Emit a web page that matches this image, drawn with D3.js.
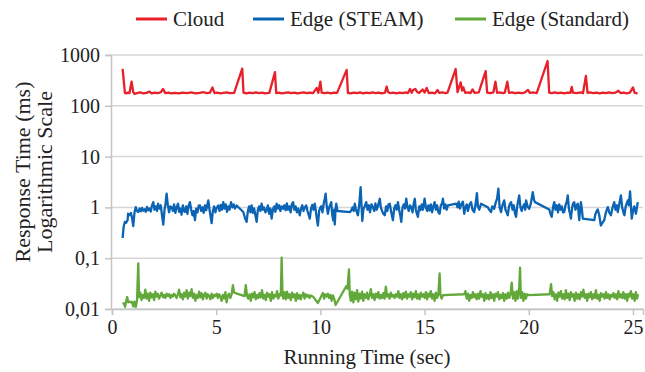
<!DOCTYPE html>
<html><head><meta charset="utf-8">
<script src="https://cdn.jsdelivr.net/npm/d3@7"></script>
<style>body{margin:0;background:#fff}svg{display:block}</style>
</head><body>
<svg id="chart" width="645" height="372"></svg>
<script>
const seriesNames = ["Cloud", "Edge (STEAM)", "Edge (Standard)"];
const xTicks = [0, 5, 10, 15, 20, 25];
const yTicks = [0.01, 0.1, 1, 10, 100, 1000];
const yTickLabels = ["0,01", "0,1", "1", "10", "100", "1000"];

const cloudData = [[0.51,531],[0.62,180],[0.68,176],[0.76,182],[0.84,178],[0.94,300],[1.02,185],[1.08,172],[1.2,178],[1.35,183],[1.5,176],[1.65,180],[1.8,190],[1.9,175],[2.05,181],[2.2,177],[2.35,185],[2.45,215],[2.55,178],[2.7,182],[2.85,176],[3.0,180],[3.2,175],[3.4,182],[3.6,178],[3.8,183],[4.0,176],[4.2,180],[4.4,185],[4.55,177],[4.7,181],[4.82,230],[4.92,178],[5.05,182],[5.2,176],[5.35,180],[5.5,184],[5.65,177],[5.86,180],[6.25,540],[6.31,182],[6.45,176],[6.6,181],[6.75,178],[6.9,183],[7.05,177],[7.2,181],[7.35,176],[7.55,180],[7.82,460],[7.88,178],[8.0,182],[8.15,176],[8.3,180],[8.45,184],[8.6,177],[8.75,181],[8.9,175],[9.05,180],[9.2,183],[9.35,177],[9.5,181],[9.65,178],[9.82,225],[9.9,180],[10.0,300],[10.06,182],[10.2,177],[10.35,181],[10.5,176],[10.65,182],[10.8,180],[11.26,510],[11.32,180],[11.45,176],[11.6,182],[11.75,178],[11.9,183],[12.05,176],[12.2,181],[12.35,177],[12.5,183],[12.65,178],[12.8,181],[12.95,176],[13.1,182],[13.18,240],[13.25,185],[13.35,178],[13.5,182],[13.65,176],[13.8,181],[13.95,177],[14.1,183],[14.2,178],[14.3,215],[14.38,180],[14.45,205],[14.55,215],[14.65,185],[14.75,180],[14.9,210],[15.0,182],[15.1,225],[15.2,178],[15.35,182],[15.5,176],[15.62,205],[15.7,180],[15.85,183],[16.0,177],[16.1,182],[16.49,530],[16.58,185],[16.73,290],[16.8,200],[16.86,230],[16.95,180],[17.1,183],[17.2,178],[17.3,210],[17.4,180],[17.6,183],[17.93,480],[18.0,182],[18.15,178],[18.3,183],[18.4,300],[18.48,180],[18.6,183],[18.75,177],[18.85,182],[18.97,300],[19.05,180],[19.2,183],[19.35,177],[19.5,182],[19.65,178],[19.8,181],[19.96,205],[20.05,180],[20.2,183],[20.38,178],[20.9,762],[20.98,182],[21.1,177],[21.25,183],[21.4,178],[21.55,181],[21.7,176],[21.85,182],[22.0,180],[22.06,235],[22.12,181],[22.3,177],[22.5,183],[22.6,178],[22.74,387],[22.82,180],[22.95,183],[23.1,177],[23.25,181],[23.4,176],[23.55,182],[23.7,178],[23.85,183],[24.0,177],[24.15,181],[24.3,198],[24.4,178],[24.55,182],[24.7,176],[24.85,181],[25.0,230],[25.08,180],[25.22,176]];

const steamData = [[0.51,0.25],[0.56,0.42],[0.62,0.52],[0.68,0.5],[0.75,0.56],[0.77,0.75],[0.84,0.7],[0.91,0.78],[0.96,0.62],[1.02,0.43],[1.08,0.8],[1.14,1.01],[1.2,0.85],[1.26,0.81],[1.32,0.95],[1.38,0.84],[1.44,0.98],[1.5,0.86],[1.56,0.92],[1.62,0.82],[1.68,1.02],[1.74,0.88],[1.8,0.95],[1.86,0.83],[1.92,1.1],[1.98,1.27],[2.04,0.9],[2.1,1.05],[2.16,0.85],[2.21,1.18],[2.28,0.95],[2.34,1.1],[2.4,0.7],[2.46,0.46],[2.52,0.9],[2.57,1.2],[2.62,1.87],[2.68,1.1],[2.74,0.8],[2.8,1.05],[2.86,1.01],[2.92,0.85],[2.98,1.15],[3.04,0.78],[3.1,1.0],[3.17,1.18],[3.22,0.82],[3.28,0.95],[3.34,0.72],[3.4,1.1],[3.45,0.85],[3.5,0.81],[3.56,1.05],[3.62,0.75],[3.68,1.1],[3.74,1.27],[3.8,0.9],[3.86,0.7],[3.92,0.85],[3.98,0.56],[4.04,0.95],[4.1,0.8],[4.16,1.08],[4.22,1.09],[4.28,0.85],[4.34,1.0],[4.4,0.78],[4.46,1.1],[4.52,0.88],[4.58,1.15],[4.62,1.37],[4.68,0.9],[4.74,0.62],[4.78,0.49],[4.84,0.85],[4.9,1.05],[4.96,0.8],[5.02,0.98],[5.1,1.09],[5.16,0.85],[5.22,1.12],[5.28,0.9],[5.34,1.27],[5.4,0.95],[5.46,1.15],[5.52,0.82],[5.58,1.05],[5.64,0.9],[5.71,1.27],[5.78,1.0],[5.84,1.15],[5.9,0.95],[5.98,1.09],[6.3,0.81],[6.38,0.62],[6.46,0.52],[6.52,0.85],[6.58,1.05],[6.64,0.8],[6.7,1.1],[6.76,0.78],[6.82,0.95],[6.88,0.7],[6.94,0.52],[7.0,0.9],[7.06,1.05],[7.12,0.85],[7.18,1.18],[7.24,0.9],[7.3,1.0],[7.36,0.8],[7.42,0.87],[7.48,1.1],[7.54,0.75],[7.6,0.95],[7.66,0.6],[7.72,0.9],[7.78,1.05],[7.84,0.82],[7.9,1.18],[7.96,0.95],[8.02,1.1],[8.08,0.85],[8.14,1.05],[8.21,0.94],[8.27,1.1],[8.33,0.88],[8.39,1.2],[8.45,0.9],[8.51,1.05],[8.57,0.8],[8.63,1.15],[8.69,1.27],[8.75,0.9],[8.81,1.05],[8.87,0.8],[8.93,0.95],[9.01,0.7],[9.07,0.95],[9.13,1.1],[9.19,0.85],[9.25,1.0],[9.32,1.09],[9.38,0.85],[9.44,0.7],[9.49,0.6],[9.55,0.95],[9.61,1.12],[9.67,0.9],[9.73,1.18],[9.79,0.8],[9.84,0.55],[9.88,0.44],[9.94,0.85],[10.0,1.0],[10.04,1.05],[10.1,0.8],[10.16,1.2],[10.21,1.5],[10.25,1.86],[10.3,1.1],[10.36,0.75],[10.42,1.0],[10.48,1.15],[10.52,1.27],[10.57,0.7],[10.62,0.55],[10.66,0.9],[10.69,0.46],[10.73,0.95],[10.76,1.18],[10.82,0.85],[11.42,0.81],[11.48,0.87],[11.54,1.0],[11.6,0.85],[11.65,1.18],[11.7,0.95],[11.75,0.8],[11.8,0.7],[11.86,1.1],[11.93,2.5],[12.01,0.54],[12.06,0.9],[12.12,1.05],[12.2,1.27],[12.26,0.9],[12.32,1.1],[12.38,0.8],[12.45,1.15],[12.52,1.01],[12.58,0.85],[12.64,1.2],[12.7,0.9],[12.76,1.05],[12.85,1.48],[12.9,1.0],[12.96,0.85],[13.02,0.75],[13.09,0.7],[13.15,1.05],[13.21,0.85],[13.27,1.15],[13.33,1.18],[13.4,0.8],[13.48,0.56],[13.54,0.95],[13.6,1.1],[13.66,0.9],[13.72,1.27],[13.78,0.9],[13.83,0.7],[13.88,0.52],[13.94,1.0],[14.0,1.15],[14.06,0.95],[14.12,1.48],[14.18,1.0],[14.24,0.85],[14.3,1.1],[14.36,1.01],[14.42,0.8],[14.48,1.2],[14.53,1.48],[14.58,0.9],[14.63,0.75],[14.68,0.65],[14.74,1.05],[14.8,0.88],[14.86,1.15],[14.92,0.9],[15.0,1.48],[15.06,1.0],[15.12,0.85],[15.18,1.1],[15.24,0.87],[15.3,1.15],[15.36,0.8],[15.42,1.05],[15.48,1.27],[15.54,0.9],[15.6,1.1],[15.66,0.8],[15.72,0.75],[15.78,1.1],[15.84,1.2],[15.88,1.48],[15.94,0.95],[16.0,1.15],[16.06,0.9],[16.12,1.09],[16.52,1.18],[16.58,1.0],[16.64,1.3],[16.7,0.95],[16.76,1.15],[16.84,1.3],[16.9,0.75],[16.96,1.0],[17.02,1.15],[17.08,0.85],[17.14,1.1],[17.23,1.27],[17.3,0.9],[17.38,0.81],[17.44,1.1],[17.51,1.9],[17.56,1.05],[17.62,0.9],[17.71,1.18],[18.03,1.01],[18.1,0.9],[18.19,0.81],[18.25,1.05],[18.34,0.94],[18.4,1.2],[18.48,1.5],[18.54,2.33],[18.6,1.0],[18.67,0.81],[18.72,1.05],[18.82,1.37],[18.88,0.9],[18.94,0.8],[18.99,0.7],[19.05,1.05],[19.1,1.2],[19.15,1.27],[19.22,0.9],[19.28,1.1],[19.34,0.75],[19.39,0.65],[19.45,1.1],[19.54,1.72],[19.6,1.0],[19.66,0.85],[19.71,1.01],[19.78,1.15],[19.83,0.9],[19.87,1.37],[19.94,1.05],[20.02,0.94],[20.1,1.2],[20.19,2.0],[20.25,1.4],[20.3,1.27],[20.98,0.91],[21.04,0.75],[21.1,0.65],[21.16,1.0],[21.22,1.27],[21.28,0.9],[21.34,1.1],[21.4,0.8],[21.46,1.15],[21.52,0.9],[21.58,1.05],[21.64,0.8],[21.7,0.81],[21.76,1.1],[21.82,1.3],[21.87,1.72],[21.93,0.9],[21.98,0.75],[22.02,0.6],[22.08,1.0],[22.13,1.2],[22.18,1.27],[22.24,0.9],[22.3,1.1],[22.35,1.18],[22.42,0.56],[22.46,0.9],[22.5,1.27],[22.55,0.9],[22.59,0.6],[23.14,0.56],[23.2,0.75],[23.26,0.85],[23.31,0.91],[23.38,0.7],[23.46,0.44],[23.54,0.5],[23.62,0.56],[23.7,0.8],[23.79,1.01],[23.86,0.8],[23.94,0.7],[24.02,1.0],[24.1,1.27],[24.16,0.9],[24.22,1.1],[24.27,0.81],[24.34,1.15],[24.42,1.72],[24.48,1.0],[24.54,0.8],[24.59,0.7],[24.65,1.05],[24.75,1.37],[24.8,1.1],[24.86,2.06],[24.94,0.6],[25.0,0.85],[25.06,1.05],[25.14,0.75],[25.23,1.27]];

const standardData = [[0.53,0.0135],[0.58,0.0125],[0.63,0.011],[0.68,0.0145],[0.73,0.0172],[0.78,0.0135],[0.84,0.014],[0.9,0.0135],[0.96,0.0138],[1.02,0.0112],[1.08,0.014],[1.14,0.011],[1.2,0.0145],[1.26,0.079],[1.3,0.017],[1.36,0.021],[1.42,0.015],[1.48,0.019],[1.54,0.0165],[1.6,0.024],[1.66,0.016],[1.72,0.02],[1.78,0.0145],[1.84,0.021],[1.9,0.017],[1.96,0.0195],[2.02,0.015],[2.08,0.022],[2.14,0.0175],[2.2,0.02],[2.26,0.016],[2.32,0.0185],[2.38,0.021],[2.44,0.017],[2.5,0.019],[2.56,0.0165],[2.62,0.02],[2.68,0.018],[2.74,0.0195],[2.8,0.0165],[2.86,0.019],[2.92,0.0175],[2.98,0.02],[3.04,0.0185],[3.1,0.0165],[3.16,0.0195],[3.22,0.024],[3.28,0.017],[3.34,0.0195],[3.4,0.0155],[3.46,0.021],[3.52,0.0175],[3.58,0.0235],[3.64,0.016],[3.7,0.021],[3.76,0.018],[3.82,0.0245],[3.88,0.0165],[3.94,0.02],[4.0,0.0145],[4.06,0.019],[4.12,0.0165],[4.18,0.022],[4.24,0.017],[4.3,0.0205],[4.36,0.0155],[4.42,0.019],[4.48,0.021],[4.54,0.016],[4.6,0.0195],[4.66,0.018],[4.72,0.0155],[4.78,0.02],[4.84,0.0165],[4.9,0.019],[4.96,0.018],[5.02,0.02],[5.08,0.0165],[5.14,0.0195],[5.2,0.0175],[5.26,0.0145],[5.32,0.019],[5.38,0.016],[5.44,0.0215],[5.5,0.0135],[5.56,0.0185],[5.62,0.02],[5.68,0.0165],[5.74,0.0195],[5.8,0.0295],[5.86,0.021],[6.36,0.018],[6.42,0.0295],[6.48,0.018],[6.54,0.016],[6.6,0.0195],[6.66,0.0145],[6.72,0.02],[6.78,0.017],[6.84,0.0215],[6.9,0.0155],[6.96,0.019],[7.02,0.0165],[7.08,0.0205],[7.14,0.017],[7.2,0.0235],[7.26,0.016],[7.32,0.019],[7.38,0.015],[7.44,0.021],[7.5,0.0175],[7.56,0.0195],[7.62,0.0145],[7.68,0.0215],[7.74,0.016],[7.8,0.019],[7.86,0.0175],[7.92,0.0225],[7.98,0.016],[8.04,0.0195],[8.1,0.0185],[8.14,0.103],[8.18,0.02],[8.22,0.016],[8.28,0.0215],[8.34,0.0155],[8.4,0.022],[8.46,0.0165],[8.52,0.0195],[8.58,0.015],[8.64,0.021],[8.7,0.017],[8.76,0.0195],[8.82,0.0145],[8.88,0.0205],[8.94,0.016],[9.0,0.019],[9.06,0.0155],[9.12,0.0185],[9.18,0.021],[9.24,0.016],[9.3,0.0195],[9.36,0.0175],[9.42,0.019],[9.48,0.0165],[9.54,0.0185],[9.65,0.0175],[9.88,0.0131],[10.12,0.0206],[10.18,0.016],[10.24,0.0195],[10.3,0.0175],[10.36,0.02],[10.42,0.0165],[10.48,0.019],[10.54,0.0145],[10.6,0.0185],[10.66,0.016],[10.73,0.012],[11.24,0.028],[11.3,0.025],[11.37,0.06],[11.41,0.019],[11.46,0.0145],[11.52,0.022],[11.58,0.0135],[11.64,0.021],[11.7,0.0155],[11.76,0.0235],[11.82,0.014],[11.88,0.02],[11.94,0.016],[12.0,0.022],[12.06,0.0145],[12.12,0.0195],[12.18,0.0165],[12.24,0.021],[12.3,0.0155],[12.36,0.0185],[12.42,0.0245],[12.48,0.0165],[12.54,0.0195],[12.6,0.015],[12.66,0.02],[12.72,0.017],[12.78,0.0215],[12.84,0.016],[12.9,0.019],[12.96,0.0165],[13.02,0.0205],[13.08,0.016],[13.14,0.0275],[13.2,0.0175],[13.26,0.0195],[13.32,0.016],[13.38,0.021],[13.44,0.0175],[13.5,0.019],[13.56,0.0165],[13.62,0.0195],[13.68,0.0175],[13.74,0.0225],[13.8,0.0165],[13.86,0.0195],[13.92,0.0155],[13.98,0.0205],[14.04,0.017],[14.1,0.022],[14.16,0.016],[14.22,0.0195],[14.28,0.0175],[14.34,0.0215],[14.4,0.0155],[14.46,0.02],[14.52,0.017],[14.58,0.0225],[14.64,0.016],[14.7,0.0195],[14.76,0.0155],[14.82,0.021],[14.88,0.0175],[14.94,0.0195],[15.0,0.0165],[15.06,0.0215],[15.12,0.0155],[15.18,0.02],[15.24,0.0175],[15.3,0.0225],[15.36,0.016],[15.42,0.0195],[15.48,0.0145],[15.54,0.021],[15.6,0.0165],[15.66,0.0195],[15.72,0.05],[15.76,0.019],[15.82,0.016],[15.88,0.0188],[16.9,0.0195],[16.96,0.0225],[17.02,0.016],[17.08,0.02],[17.14,0.0145],[17.2,0.019],[17.26,0.0165],[17.32,0.0215],[17.38,0.017],[17.44,0.0195],[17.5,0.0155],[17.56,0.02],[17.62,0.016],[17.68,0.0225],[17.74,0.0175],[17.8,0.0195],[17.86,0.0145],[17.92,0.0205],[17.98,0.016],[18.04,0.019],[18.1,0.0155],[18.16,0.0215],[18.22,0.0165],[18.28,0.0195],[18.34,0.0145],[18.4,0.02],[18.46,0.0175],[18.52,0.0215],[18.58,0.0155],[18.64,0.019],[18.7,0.0165],[18.76,0.0205],[18.82,0.0145],[18.88,0.0195],[18.94,0.016],[19.0,0.021],[19.06,0.0165],[19.12,0.0195],[19.18,0.033],[19.24,0.016],[19.3,0.0215],[19.36,0.0145],[19.42,0.0225],[19.48,0.016],[19.54,0.026],[19.58,0.065],[19.62,0.0165],[19.68,0.0215],[19.74,0.0145],[19.8,0.02],[19.86,0.016],[19.92,0.0195],[20.0,0.0188],[21.0,0.0195],[21.07,0.031],[21.12,0.018],[21.18,0.0215],[21.24,0.0155],[21.3,0.0195],[21.36,0.0145],[21.42,0.021],[21.48,0.0175],[21.54,0.0225],[21.6,0.016],[21.66,0.0195],[21.72,0.0155],[21.78,0.0235],[21.84,0.0165],[21.9,0.02],[21.96,0.015],[22.02,0.0215],[22.08,0.0175],[22.14,0.0195],[22.2,0.0145],[22.26,0.021],[22.32,0.016],[22.38,0.0195],[22.44,0.0155],[22.5,0.0215],[22.56,0.0175],[22.62,0.024],[22.68,0.0165],[22.74,0.0195],[22.8,0.0145],[22.86,0.02],[22.92,0.017],[22.98,0.0215],[23.04,0.0155],[23.1,0.0195],[23.16,0.0165],[23.22,0.0235],[23.28,0.016],[23.34,0.019],[23.4,0.0145],[23.46,0.0205],[23.52,0.0175],[23.58,0.0195],[23.64,0.016],[23.7,0.0215],[23.76,0.0165],[23.82,0.0195],[23.88,0.0155],[23.94,0.019],[24.0,0.0175],[24.06,0.0205],[24.12,0.0165],[24.18,0.0195],[24.24,0.0155],[24.3,0.0225],[24.36,0.017],[24.42,0.0195],[24.48,0.0165],[24.54,0.0215],[24.6,0.016],[24.66,0.0195],[24.72,0.0145],[24.78,0.02],[24.84,0.0175],[24.9,0.0225],[24.96,0.016],[25.02,0.0195],[25.08,0.0145],[25.14,0.0215],[25.2,0.016],[25.24,0.0195]];

const seriesData = [cloudData, steamData, standardData];
const colors = ["#e8202a", "#0b63b4", "#62a83a"];

const svg = d3.select("#chart");
const plot = {left: 111, right: 643, top: 55, bottom: 309};
const font = "'Liberation Serif', 'Times New Roman', serif";

const x = d3.scaleLinear().domain([0, 25.48]).range([plot.left + 1, plot.right]);
const y = d3.scaleLog().domain([0.01, 1000]).range([plot.bottom, plot.top]);

// horizontal gridlines
svg.append("g").selectAll("line").data(yTicks).join("line")
  .attr("x1", plot.left).attr("x2", plot.right)
  .attr("y1", d => y(d)).attr("y2", d => y(d))
  .attr("stroke", "#d6d6d6").attr("stroke-width", 1.5);

// y axis
const yAxis = d3.axisLeft(y).tickValues(yTicks)
  .tickFormat((d, i) => yTickLabels[i]).tickSize(6).tickPadding(5);
const gy = svg.append("g").attr("transform", `translate(${plot.left},0)`).call(yAxis);
gy.select(".domain").attr("stroke", "#c4c4c4").attr("stroke-width", 1.5);
gy.selectAll(".tick line").attr("stroke", "#c4c4c4").attr("stroke-width", 1.5);
gy.selectAll(".tick text").attr("font-family", font).attr("font-size", 20).attr("fill", "#222");

// x axis
const xAxis = d3.axisBottom(x).tickValues(xTicks).tickSize(6).tickPadding(5);
const gx = svg.append("g").attr("transform", `translate(0,${plot.bottom})`).call(xAxis);
gx.select(".domain").attr("stroke", "#c4c4c4").attr("stroke-width", 1.5);
gx.selectAll(".tick line").attr("stroke", "#c4c4c4").attr("stroke-width", 1.5);
gx.selectAll(".tick text").attr("font-family", font).attr("font-size", 20).attr("fill", "#222");

// axis titles
svg.append("text").attr("x", (plot.left + plot.right) / 2 - 10).attr("y", 364)
  .attr("text-anchor", "middle").attr("font-family", font).attr("font-size", 21)
  .attr("fill", "#222").text("Running Time (sec)");
const yt = svg.append("g").attr("transform", "translate(0,172) rotate(-90)");
yt.append("text").attr("x", 0).attr("y", 30).attr("text-anchor", "middle")
  .attr("font-family", font).attr("font-size", 22).attr("fill", "#222").text("Response Time (ms)");
yt.append("text").attr("x", 0).attr("y", 52).attr("text-anchor", "middle")
  .attr("font-family", font).attr("font-size", 22).attr("fill", "#222").text("Logarithmic Scale");

// series lines
const line = d3.line().x(d => x(d[0])).y(d => y(d[1]));
seriesData.forEach((data, i) => {
  svg.append("path").datum(data).attr("d", line)
    .attr("fill", "none").attr("stroke", colors[i]).attr("stroke-width", 2.3)
    .attr("stroke-linejoin", "round");
});

// legend
const legendX = [136, 253, 455];
const lg = svg.append("g");
seriesNames.forEach((name, i) => {
  lg.append("line").attr("x1", legendX[i]).attr("x2", legendX[i] + 31)
    .attr("y1", 19).attr("y2", 19).attr("stroke", colors[i]).attr("stroke-width", 3);
  lg.append("text").attr("x", legendX[i] + 37).attr("y", 26)
    .attr("font-family", font).attr("font-size", 21).attr("fill", "#222").text(name);
});
</script>
</body></html>
